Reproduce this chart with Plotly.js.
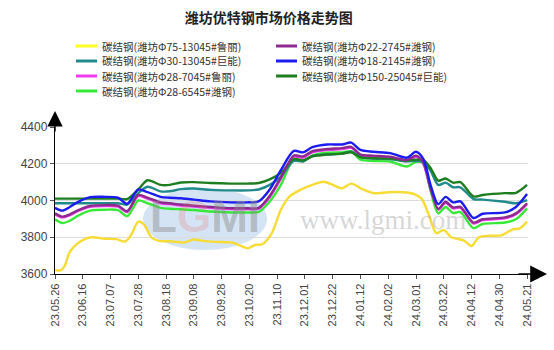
<!DOCTYPE html>
<html>
<head>
<meta charset="utf-8">
<script src="https://cdn.plot.ly/plotly-3.0.1.min.js"></script>
<style>html,body{margin:0;padding:0;background:#fff;}#chart{width:554px;height:350px;}</style>
</head>
<body>
<div id="chart"></div>
<script>
// ---- data ----
const xTickLabels = ['23.05.26','23.06.16','23.07.07','23.07.28','23.08.18','23.09.08','23.09.28','23.10.20','23.11.10','23.12.01','23.12.22','24.01.12','24.02.02','24.03.01','24.03.22','24.04.12','24.04.30','24.05.21'];
const xTickPos = [0,15,30,45,60,75,90,105,120,135,150,165,180,195,210,225,240,255];

// sample positions (trading-day index) shared by most series
const idx = [0,4,8,12,19,27,34,39,45,50,57,62,68,75,84,95,104,110,116,122,129,134,139,147,155,160,165,172,181,190,195,199,203,207,211,215,219,226,231,243,249,255];

const darkGreen = [4010,4010,4010,4010,4010,4010,4010,4008,4060,4110,
  4085,4085,4098,4100,4095,4092,4092,4095,4115,4150,
  4225,4218,4240,4250,4255,4262,4235,4230,4228,4218,
  4222,4220,4175,4108,4120,4097,4100,4022,4030,4040,
  4042,4085];
const teal = [3985,3985,3985,3985,3985,3985,3985,3978,4040,4075,
  4050,4050,4062,4065,4058,4055,4055,4060,4085,4130,
  4215,4212,4242,4250,4255,4265,4238,4228,4225,4213,
  4215,4210,4160,4085,4097,4072,4072,4008,4005,3993,
  3985,4002];
const blue = [3960,3945,3965,3990,4018,4020,4015,3982,4060,4045,
  4020,4015,4012,4005,3995,3990,3990,3995,4060,4165,
  4270,4262,4290,4305,4305,4315,4275,4265,4258,4233,
  4265,4225,4080,3980,4020,3990,3995,3905,3928,3935,
  3965,4035];
const purple = [3930,3912,3925,3945,3970,3975,3972,3942,4030,4015,
  3990,3985,3978,3972,3965,3958,3958,3960,4025,4125,
  4245,4240,4268,4280,4285,4292,4250,4244,4238,4220,
  4244,4205,4060,3955,3993,3962,3965,3880,3898,3908,
  3930,3985];
const magenta = [3925,3908,3920,3940,3965,3970,3967,3937,4025,4010,
  3985,3980,3973,3967,3960,3953,3953,3955,4018,4118,
  4238,4233,4262,4274,4280,4286,4244,4238,4232,4214,
  4238,4198,4052,3950,3988,3957,3960,3875,3893,3903,
  3925,3980];
const green = [3898,3877,3890,3915,3945,3950,3948,3915,4000,3985,
  3960,3955,3952,3948,3940,3935,3935,3938,3995,4085,
  4225,4215,4245,4260,4262,4268,4222,4215,4212,4185,
  4210,4205,4050,3930,3965,3932,3937,3850,3872,3880,
  3898,3957];

const yellowIdx = [0,3,5,8,12,16,20,27,33,38,41,45,48,52,56,62,70,75,80,86,95,100,104,108,112,117,122,127,133,139,145,150,155,160,166,172,180,188,194,198,202,206,210,214,218,221,225,229,235,241,247,251,255];
const yellow = [3622,3620,3640,3720,3765,3790,3800,3792,3790,3777,3810,3885,3870,3800,3780,3778,3772,3788,3780,3775,3772,3755,3740,3758,3762,3820,3950,4025,4060,4085,4102,4085,4066,4092,4062,4040,4045,4045,4035,4010,3920,3822,3840,3800,3790,3782,3752,3800,3808,3810,3842,3848,3885];

const names = {
  yellow:  '碳结钢(潍坊Φ75-13045#鲁丽)',
  purple:  '碳结钢(潍坊Φ22-2745#潍钢)',
  teal:    '碳结钢(潍坊Φ30-13045#巨能)',
  blue:    '碳结钢(潍坊Φ18-2145#潍钢)',
  magenta: '碳结钢(潍坊Φ28-7045#鲁丽)',
  darkGreen:'碳结钢(潍坊Φ150-25045#巨能)',
  green:   '碳结钢(潍坊Φ28-6545#潍钢)'
};
const colors = {
  yellow:'#f6dc34', purple:'#8e2a8e', teal:'#228a8a', blue:'#1c1cf0',
  magenta:'#f03cf0', darkGreen:'#1e7d1e', green:'#38e838'
};
const legendColors = {
  yellow:'#ffff22', purple:'#8e2a8e', teal:'#228a8a', blue:'#1c1cf0',
  magenta:'#f03cf0', darkGreen:'#1e7d1e', green:'#38e838'
};

// ---- traces ----
function tr(key, xs, ys){
  return {x: xs, y: ys, name: names[key], type:'scatter', mode:'lines',
    line:{color: colors[key], width:2.4, shape:'spline', smoothing:0.8},
    showlegend:false, hoverinfo:'skip'};
}
const data = [
  tr('yellow', yellowIdx, yellow),
  tr('magenta', idx, magenta),
  tr('green', idx, green),
  tr('teal', idx, teal),
  tr('darkGreen', idx, darkGreen),
  tr('purple', idx, purple),
  tr('blue', idx, blue)
];

// ---- layout ----
const W = 554, H = 350;
const L = 55, R = 528, T = 127, B = 274;
const px2paperX = p => (p - L) / (R - L);
const px2paperY = p => (B - p) / (B - T);

const shapes = [];
const annotations = [];

// watermark
shapes.push({type:'circle', xref:'paper', yref:'paper', layer:'below',
  x0:px2paperX(143), x1:px2paperX(267), y0:px2paperY(250), y1:px2paperY(188),
  fillcolor:'rgba(160,195,230,0.45)', line:{width:0}});
annotations.push({xref:'paper', yref:'paper', x:px2paperX(205), y:px2paperY(216),
  xanchor:'center', yanchor:'middle', showarrow:false,
  text:'<b>L<span style="color:rgba(230,120,120,0.55)">G</span>MI</b>',
  font:{family:'Liberation Sans', size:44, color:'rgba(140,140,140,0.45)'}});
annotations.push({xref:'paper', yref:'paper', x:px2paperX(383), y:px2paperY(220),
  xanchor:'center', yanchor:'middle', showarrow:false, text:'www.lgmi.com',
  font:{family:'Liberation Serif', size:27, color:'rgba(150,150,150,0.4)'}});

// axis arrows
annotations.push({xref:'paper', yref:'paper', x:px2paperX(547), y:0, ax:-30, ay:0,
  text:'', showarrow:true, arrowhead:2, arrowsize:2.4, arrowwidth:1.4, arrowcolor:'#000'});
annotations.push({xref:'paper', yref:'paper', x:0, y:px2paperY(111), ax:0, ay:22,
  text:'', showarrow:true, arrowhead:2, arrowsize:2.2, arrowwidth:1.4, arrowcolor:'#000'});

// manual legend (two columns, row-major)
const legendOrder = ['yellow','purple','teal','blue','magenta','darkGreen','green'];
const colX = [76, 276];
const rowY = [46, 61, 76, 91];
legendOrder.forEach((k, i) => {
  const c = i % 2, r = Math.floor(i / 2);
  const yy = px2paperY(rowY[r]);
  shapes.push({type:'line', xref:'paper', yref:'paper',
    x0:px2paperX(colX[c]), x1:px2paperX(colX[c] + 21), y0:yy, y1:yy,
    line:{color:legendColors[k], width:3}});
  annotations.push({xref:'paper', yref:'paper', x:px2paperX(colX[c] + 25), y:yy,
    xanchor:'left', yanchor:'middle', showarrow:false, text:names[k],
    borderpad:0,
    font:{family:'Noto Sans CJK SC', size:10.5, color:'#333'}});
});

const layout = {
  width: W, height: H,
  margin:{l:L, r:W-R, t:T, b:H-B, pad:0},
  paper_bgcolor:'#fff', plot_bgcolor:'#fff',
  showlegend:false,
  title:{text:'<b>潍坊优特钢市场价格走势图</b>', x:0.485, xanchor:'center', y:1-18/H, yanchor:'middle',
    font:{family:'Noto Sans CJK SC', size:14, color:'#222'}},
  xaxis:{range:[0,255.5], tickmode:'array', tickvals:xTickPos, ticktext:xTickLabels,
    tickangle:-90, ticks:'outside', ticklen:4, tickcolor:'#555',
    showgrid:false, zeroline:false, showline:true, linecolor:'#000', linewidth:1.2,
    tickfont:{family:'Liberation Sans', size:11, color:'#444'}, fixedrange:true},
  yaxis:{range:[3600,4400], tickmode:'array', tickvals:[3600,3800,4000,4200,4400],
    ticks:'outside', ticklen:4, tickcolor:'#555',
    showgrid:true, gridcolor:'#dcdcdc', gridwidth:1, zeroline:false,
    showline:true, linecolor:'#000', linewidth:1.2,
    tickfont:{family:'Liberation Sans', size:12, color:'#444'}, fixedrange:true},
  shapes: shapes,
  annotations: annotations
};

Plotly.newPlot('chart', data, layout, {displayModeBar:false, staticPlot:true});
</script>
</body>
</html>
